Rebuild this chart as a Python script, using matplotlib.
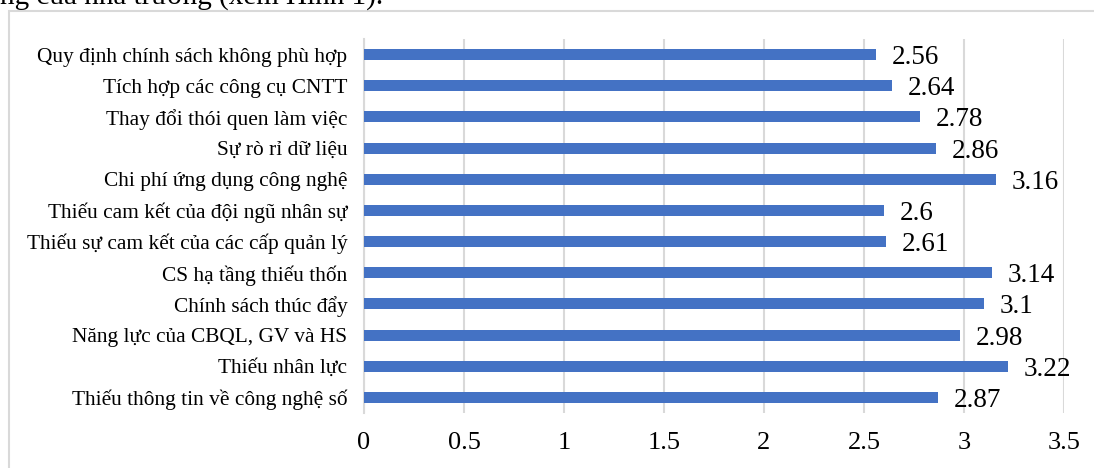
import matplotlib.pyplot as plt
from matplotlib.patches import Rectangle

plt.rcParams['font.family'] = ['Liberation Serif', 'DejaVu Serif']

categories = [
    "Quy định chính sách không phù hợp",
    "Tích hợp các công cụ CNTT",
    "Thay đổi thói quen làm việc",
    "Sự rò rỉ dữ liệu",
    "Chi phí ứng dụng công nghệ",
    "Thiếu cam kết của đội ngũ nhân sự",
    "Thiếu sự cam kết của các cấp quản lý",
    "CS hạ tầng thiếu thốn",
    "Chính sách thúc đẩy",
    "Năng lực của CBQL, GV và HS",
    "Thiếu nhân lực",
    "Thiếu thông tin về công nghệ số",
]
scores = [2.56, 2.64, 2.78, 2.86, 3.16, 2.6, 2.61, 3.14, 3.1, 2.98, 3.22, 2.87]
score_labels = ["2.56", "2.64", "2.78", "2.86", "3.16", "2.6", "2.61", "3.14", "3.1", "2.98", "3.22", "2.87"]
xticks = [0, 0.5, 1, 1.5, 2, 2.5, 3, 3.5]
xtick_labels = ["0", "0.5", "1", "1.5", "2", "2.5", "3", "3.5"]

W, H = 1094, 468
fig = plt.figure(figsize=(W / 100, H / 100), dpi=100)

# tail end of the paragraph sitting above the figure
fig.text(0.0, 1 - 4 / H, "ng của nhà trường (xem Hình 1).", fontsize=21,
         ha='left', va='baseline', color='black')

# light frame around the chart
fig.patches.append(Rectangle((8.5 / W, -0.05), 1.2, 1 - 10.5 / H + 0.05,
                             transform=fig.transFigure, fill=False,
                             edgecolor='#D9D9D9', linewidth=1.5))

ax = fig.add_axes([364 / W, 1 - 413 / H, 700 / W, 374 / H])
y = list(range(len(categories)))
ax.barh(y, scores, height=0.35, color='#4472C4', zorder=3)

for yi, v, lab in zip(y, scores, score_labels):
    ax.text(v + 0.08, yi, lab, fontsize=19.5, va='center_baseline', ha='left', zorder=4)

ax.set_ylim(len(categories) - 0.5, -0.5)
ax.set_xlim(0, 3.5)
ax.set_yticks(y)
ax.set_yticklabels(categories, fontsize=15.4)
ax.set_xticks(xticks)
ax.set_xticklabels(xtick_labels, fontsize=19)
ax.tick_params(axis='y', length=0, pad=12)
ax.tick_params(axis='x', length=0, pad=14)
ax.grid(axis='x', color='#D9D9D9', linewidth=1.5, zorder=0)
for s in ['top', 'right', 'bottom']:
    ax.spines[s].set_visible(False)
ax.spines['left'].set_color('#D9D9D9')
ax.spines['left'].set_linewidth(1.5)

fig.savefig('out.png', dpi=100)
